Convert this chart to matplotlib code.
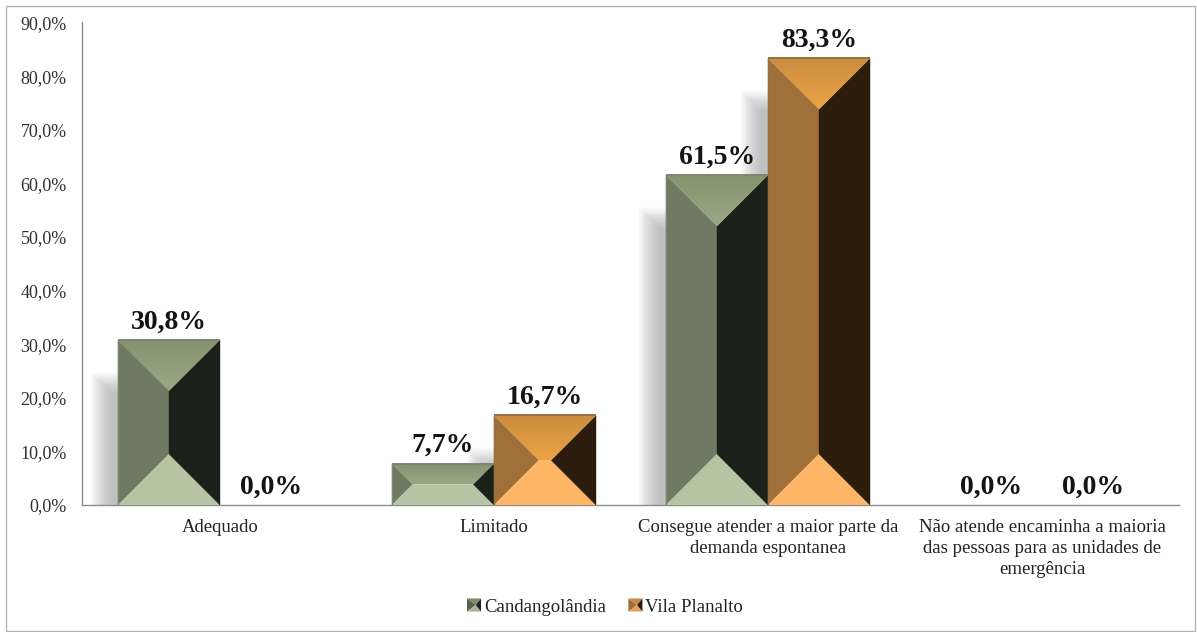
import matplotlib
matplotlib.use('Agg')
import matplotlib.pyplot as plt
import numpy as np
from matplotlib.colors import LinearSegmentedColormap
from matplotlib.legend_handler import HandlerBase
from matplotlib.patches import Patch, Polygon, Rectangle

WIDTH = 1197
HEIGHT = 632

categories = ['Adequado', 'Limitado',
              'Consegue atender a maior parte da\ndemanda espontanea',
              'Não atende encaminha a maioria\ndas pessoas para as unidades de\nemergência']
seriesNames = ['Candangolândia', 'Vila Planalto']
candangolandia = [30.8, 7.7, 61.5, 0.0]
vilaPlanalto = [0.0, 16.7, 83.3, 0.0]
yTicks = [0, 10, 20, 30, 40, 50, 60, 70, 80, 90]

# facet colours: left, top (outer, inner), bottom, right
greenFacets = ['#6f7a63', ('#85936f', '#99a986'), '#b5c5a3', '#1b2019']
orangeFacets = ['#a0703a', ('#cd8d3e', '#eaa346'), '#fdb566', '#2c1c0c']
greenEdge = '#7c8670'
orangeEdge = '#95703f'

plt.rcParams['font.family'] = ['Liberation Serif', 'DejaVu Serif']

fig = plt.figure(figsize=(WIDTH / 100, HEIGHT / 100), dpi=100)
ax = fig.add_axes([82 / WIDTH, 1 - 505 / HEIGHT, (1179 - 82) / WIDTH, (505 - 22.5) / HEIGHT])

pxX = 274.0
pxY = (505 - 22.5) / 90
barWidth = 102 / pxX
xLeft = -138 / pxX
xRight = xLeft + (1179 - 82) / pxX


def drawShadow(x, value):
    # soft grey block that sticks out on the left, lower than the bar top
    top = value - 32 / pxY
    if top * pxY < 20:
        return
    for k in range(24):
        left = x - (28 - k * 0.9) / pxX
        ax.add_patch(Rectangle((left, 0), x + barWidth / 2 - left, max(top - k * 0.9 / pxY, 0),
                               fc='#808080', ec='none', alpha=0.024, zorder=1))


def drawBar(x, value, facets, edge):
    if value <= 0:
        return
    x0 = x
    x1 = x + barWidth
    b = min(barWidth * pxX / 2, value * pxY / 2)
    bx = b / pxX
    by = b / pxY
    inner = [(x0 + bx, by), (x1 - bx, by), (x1 - bx, value - by), (x0 + bx, value - by)]
    left = [(x0, 0), inner[0], inner[3], (x0, value)]
    top = [(x0, value), inner[3], inner[2], (x1, value)]
    bottom = [(x0, 0), (x1, 0), inner[1], inner[0]]
    right = [(x1, 0), (x1, value), inner[2], inner[1]]
    for pts, col in zip([left, bottom, right], [facets[0], facets[2], facets[3]]):
        ax.add_patch(Polygon(pts, closed=True, fc=col, ec=col, lw=0.3, zorder=3))
    # top facet has a vertical gradient
    cmap = LinearSegmentedColormap.from_list('facet', list(facets[1]))
    poly = Polygon(top, closed=True, fc='none', ec='none', zorder=3)
    ax.add_patch(poly)
    img = ax.imshow(np.linspace(0, 1, 32).reshape(-1, 1), cmap=cmap, aspect='auto', origin='upper',
                    extent=(x0, x1, value - by, value), zorder=3)
    img.set_clip_path(poly)
    ax.plot([x0, x1], [value, value], color=edge, lw=1.4, zorder=4, solid_capstyle='butt')
    ax.plot([x0, x0], [0, value], color=edge, lw=0.9, zorder=4, solid_capstyle='butt')


class BevelHandler(HandlerBase):
    def create_artists(self, legend, orig, xd, yd, w, h, fontsize, trans):
        facets = orig.facets
        x0, y0 = -xd, -yd
        cx, cy = x0 + w * 0.62, y0 + h / 2
        corners = [(x0, y0), (x0 + w, y0), (x0 + w, y0 + h), (x0, y0 + h)]
        parts = [[corners[0], corners[3], (cx, cy)], [corners[3], corners[2], (cx, cy)],
                 [corners[0], corners[1], (cx, cy)], [corners[1], corners[2], (cx, cy)]]
        return [Polygon(p, closed=True, fc=c, ec='none', transform=trans) for p, c in zip(parts, facets)]


for i in range(len(categories)):
    drawShadow(i - barWidth, candangolandia[i])
    drawShadow(i, vilaPlanalto[i])
for i in range(len(categories)):
    drawBar(i - barWidth, candangolandia[i], greenFacets, greenEdge)
    drawBar(i, vilaPlanalto[i], orangeFacets, orangeEdge)
    for off, val in [(-barWidth / 2, candangolandia[i]), (barWidth / 2, vilaPlanalto[i])]:
        ax.annotate('{:.1f}%'.format(val).replace('.', ','), (i + off, val), xytext=(0, 4),
                    textcoords='offset points', ha='center', va='bottom',
                    fontsize=20, fontweight='bold', color='#141414', zorder=5)

ax.set_xlim(xLeft, xRight)
ax.set_ylim(0, 90)
ax.set_yticks(yTicks)
ax.set_yticklabels(['{:.1f}%'.format(t).replace('.', ',') for t in yTicks], fontsize=13, color='#303030')
ax.set_xticks(range(len(categories)))
ax.set_xticklabels(categories, fontsize=13.5, color='#222222', linespacing=1.3)
ax.tick_params(axis='y', length=0, pad=11)
ax.tick_params(axis='x', length=0, pad=10)
for name in ['top', 'right']:
    ax.spines[name].set_visible(False)
for name in ['left', 'bottom']:
    ax.spines[name].set_color('#8c8c8c')
    ax.spines[name].set_linewidth(1.0)

handleG = Patch(label=seriesNames[0])
handleG.facets = ['#59624f', '#7d8a6c', '#a7b596', '#20241d']
handleO = Patch(label=seriesNames[1])
handleO.facets = ['#a0703a', '#c98c45', '#e0a563', '#2c1c0c']
fig.legend(handles=[handleG, handleO], handler_map={Patch: BevelHandler()}, loc='center',
           bbox_to_anchor=(605 / WIDTH, 1 - 607 / HEIGHT), ncol=2, frameon=False, fontsize=13.5,
           handlelength=0.75, handleheight=0.7, handletextpad=0.15, columnspacing=1.2, labelcolor='#222222')

# outer chart frame
fig.add_artist(Rectangle((6 / WIDTH, 1 - 631 / HEIGHT), (1195 - 6) / WIDTH, (631 - 6) / HEIGHT,
                         transform=fig.transFigure, fc='none', ec='#b4b4b4', lw=1.0))

fig.savefig('out.png', dpi=100)
